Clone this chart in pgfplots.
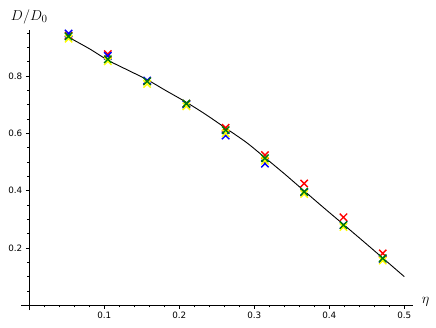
\documentclass[border=0pt]{standalone}
\usepackage{pgfplots}
\pgfplotsset{compat=1.18}
\usepackage{fontspec}
\setmainfont{DejaVu Sans}
\definecolor{mred}{RGB}{255,0,0}
\definecolor{mblue}{RGB}{0,0,255}
\definecolor{myellow}{RGB}{255,255,0}
\definecolor{mgreen}{RGB}{0,128,0}
\begin{document}
\begin{tikzpicture}
\useasboundingbox (-29.3bp,-22.7bp) rectangle (406.7bp,305.3bp);
\begin{axis}[
  anchor=origin, at={(0,0)},
  x=750bp, y=286.7bp,
  xmin=-0.011, xmax=0.5116, ymin=-0.0164, ymax=0.9603,
  axis lines*=middle,
  clip=false,
  xtick={0.1,0.2,0.3,0.4,0.5}, ytick={0.2,0.4,0.6,0.8},
  minor xtick={0.02,0.04,0.06,0.08,0.12,0.14,0.16,0.18,0.22,0.24,0.26,0.28,0.32,0.34,0.36,0.38,0.42,0.44,0.46,0.48},
  minor ytick={0.05,0.1,0.15,0.25,0.3,0.35,0.45,0.5,0.55,0.65,0.7,0.75,0.85,0.9,0.95},
  tick align=outside,
  major tick length=3.5bp, minor tick length=2bp,
  every tick/.style={black, line width=0.6bp},
  axis line style={black, line width=0.8bp},
  ticklabel style={font=\fontsize{8.8}{10}\selectfont},
  /pgf/number format/assume math mode=true,
]
\addplot[black, line width=0.9bp, smooth] coordinates {
(0.0524,0.935) (0.08,0.895) (0.1047,0.855) (0.13,0.822) (0.1571,0.787) (0.18,0.752) (0.2094,0.708)
(0.235,0.666) (0.2618,0.618) (0.29,0.567) (0.3142,0.515) (0.34,0.459) (0.3665,0.399)
(0.39,0.346) (0.4189,0.282) (0.445,0.224) (0.4712,0.165) (0.5,0.100)};
\addplot[only marks, mark=x, mark size=5.2bp, mred, line width=1.4bp] coordinates {
(0.0524,0.941) (0.1047,0.876) (0.1571,0.782) (0.2094,0.703) (0.2618,0.619) (0.3142,0.524) (0.3665,0.425) (0.4189,0.307) (0.4712,0.181)};
\addplot[only marks, mark=x, mark size=5.2bp, mblue, line width=1.4bp] coordinates {
(0.0524,0.948) (0.1047,0.870) (0.1571,0.784) (0.2094,0.700) (0.2618,0.592) (0.3142,0.494) (0.3665,0.394) (0.4189,0.280) (0.4712,0.162)};
\addplot[only marks, mark=x, mark size=5.2bp, myellow, line width=1.4bp] coordinates {
(0.0524,0.930) (0.1047,0.851) (0.1571,0.772) (0.2094,0.694) (0.2618,0.600) (0.3142,0.504) (0.3665,0.388) (0.4189,0.273) (0.4712,0.156)};
\addplot[only marks, mark=x, mark size=5.2bp, mgreen, line width=1.4bp] coordinates {
(0.0524,0.938) (0.1047,0.858) (0.1571,0.781) (0.2094,0.704) (0.2618,0.611) (0.3142,0.513) (0.3665,0.396) (0.4189,0.280) (0.4712,0.164)};
\node[anchor=base, inner sep=0pt, font=\fontsize{15}{18}\selectfont] at (axis cs:0,0.9927) {$D/D_0$};
\node[anchor=base west, inner sep=0pt, font=\fontsize{15}{18}\selectfont] at (axis cs:0.5232,0.0063) {$\eta$};
\end{axis}
\end{tikzpicture}
\end{document}
